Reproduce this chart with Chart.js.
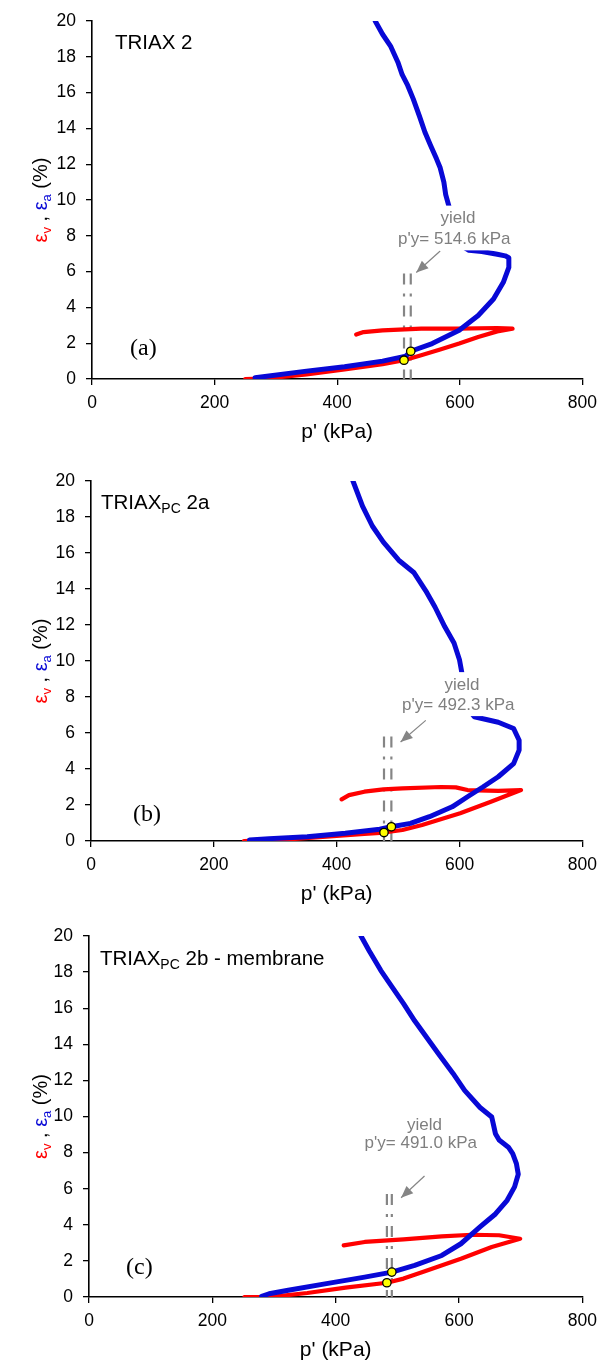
<!DOCTYPE html>
<html>
<head>
<meta charset="utf-8">
<script src="https://cdn.jsdelivr.net/npm/chart.js@4"></script>
<style>
  body { margin:0; background:#fff; width:605px; height:1363px; position:relative; overflow:hidden; }
  canvas { position:absolute; left:0; }
</style>
</head>
<body>
<canvas id="cA" width="605" height="450" style="top:0px"></canvas>
<canvas id="cB" width="605" height="450" style="top:455px"></canvas>
<canvas id="cC" width="605" height="453" style="top:910px"></canvas>
<script>
// ---- data (p' in kPa, strains in %) ----
// (a) TRIAX 2
const aBlueP = [266,350,412,474,512,520,555,599,630,655,671,680,680,674,661,636,615,595,585,582,583,577,574,568,562,552,543,534,524,515,506,499,487,474,462];
const aBlueE = [0.07,0.44,0.68,1.0,1.28,1.55,1.98,2.72,3.55,4.47,5.4,6.23,6.78,6.88,6.97,7.12,7.19,7.6,8.5,9.2,9.56,10.3,11.0,11.8,12.3,13.07,13.8,14.7,15.65,16.4,17.0,17.7,18.6,19.26,20];
const aRedP  = [250,288,350,412,474,509,537,568,599,630,661,686,661,599,537,474,443,431];
const aRedE  = [0,0.04,0.26,0.54,0.83,1.05,1.33,1.65,1.98,2.35,2.66,2.81,2.85,2.81,2.81,2.72,2.62,2.48];
const aYieldP = [509, 520];          // red / blue yield markers
const aYieldE = [1.05, 1.55];
const aArrowP = [568, 529];
const aArrowE = [7.15, 5.95];

// (b) TRIAX_PC 2a
const bBlueP = [258,290,352,414,470,489,520,551,588,613,638,663,688,697,697,688,663,624,610,605,604,600,591,576,560,545,526,501,476,458,442,426.5];
const bBlueE = [0.05,0.13,0.24,0.43,0.65,0.79,0.98,1.35,1.9,2.46,3.0,3.57,4.3,5.05,5.6,6.25,6.6,6.9,7.5,8.5,9.3,10.05,11.0,11.9,13.0,13.9,14.9,15.6,16.6,17.5,18.6,20];
const bRedP  = [249,321,383,445,477,507,539,601,651,700,663,613,594,570,507,476,445,420,408];
const bRedE  = [0,0.09,0.24,0.39,0.47,0.61,0.89,1.54,2.18,2.83,2.79,2.83,2.98,3.0,2.92,2.87,2.74,2.55,2.31];
const bYieldP = [477, 489];
const bYieldE = [0.47, 0.79];
const bArrowP = [545, 504];
const bArrowE = [6.7, 5.5];

// (c) TRIAX_PC 2b - membrane
const cBlueP = [280,292,323,385,447,491,528,572,603,634,659,678,690,696,693,687,680,665,659,653,634,609,590,566,547,528,510,491,473,454,441];
const cBlueE = [0.04,0.18,0.37,0.74,1.1,1.38,1.75,2.3,2.95,3.88,4.6,5.36,6.1,6.8,7.39,7.94,8.3,8.7,9.05,9.97,10.5,11.45,12.4,13.5,14.4,15.3,16.25,17.2,18.1,19.2,20];
const cRedP  = [252,292,354,416,483,510,541,603,653,699,665,621,572,510,447,413];
const cRedE  = [0,0,0.22,0.52,0.79,1.02,1.39,2.12,2.77,3.23,3.42,3.45,3.36,3.19,3.05,2.86];
const cYieldP = [483, 491];
const cYieldE = [0.79, 1.38];
const cArrowP = [544, 506];
const cArrowE = [6.7, 5.5];

const xTicks = [0, 200, 400, 600, 800];
const yTicks = [0, 2, 4, 6, 8, 10, 12, 14, 16, 18, 20];

const SANS = '"Liberation Sans", Arial, sans-serif';
const SERIF = '"Liberation Serif", "Times New Roman", serif';
const BLUE = '#0808d6', RED = '#ff0000', GREY = '#858585';

function pts(xs, ys){ return xs.map((v, i) => ({ x: v, y: ys[i] })); }

// draws a run of coloured text pieces; sub pieces are smaller and lowered
function drawRuns(ctx, runs, x, y){
  runs.forEach(r => {
    ctx.font = (r.size || 20) + 'px ' + SANS;
    ctx.fillStyle = r.color || '#000';
    ctx.fillText(r.t, x, y + (r.dy || 0));
    x += ctx.measureText(r.t).width + (r.gap || 0);
  });
}
function runsWidth(ctx, runs){
  let w = 0;
  runs.forEach(r => { ctx.font = (r.size || 20) + 'px ' + SANS; w += ctx.measureText(r.t).width + (r.gap || 0); });
  return w;
}

const extras = {
  id: 'extras',
  afterDatasetsDraw(chart, args, o){
    const { ctx, chartArea: a, scales: { x, y } } = chart;
    ctx.save();
    ctx.textBaseline = 'alphabetic';

    // yield label with white box behind it
    ctx.font = '17px ' + SANS;
    const x1 = x.getPixelForValue(o.l1[0]), y1 = y.getPixelForValue(o.l1[1]);
    const x2 = x.getPixelForValue(o.l2[0]), y2 = y.getPixelForValue(o.l2[1]);
    const w1 = ctx.measureText('yield').width, w2 = ctx.measureText(o.label).width;
    const bl = Math.min(x1 - w1/2, x2 - w2/2) - 3, br = Math.max(x1 + w1/2, x2 + w2/2) + 3;
    ctx.fillStyle = '#fff';
    ctx.fillRect(bl, y1 - 13, br - bl, y2 - y1 + 24);
    ctx.fillStyle = '#7f7f7f';
    ctx.textAlign = 'center';
    ctx.textBaseline = 'middle';
    ctx.fillText('yield', x1, y1);
    ctx.fillText(o.label, x2, y2);

    // arrow head at the end of the arrow dataset
    const ax = chart.data.datasets.find(d => d.label === 'arrow').data;
    const tx = x.getPixelForValue(ax[0].x), ty = y.getPixelForValue(ax[0].y);
    const hx = x.getPixelForValue(ax[1].x), hy = y.getPixelForValue(ax[1].y);
    const ang = Math.atan2(hy - ty, hx - tx);
    ctx.fillStyle = GREY;
    ctx.beginPath();
    ctx.moveTo(hx, hy);
    ctx.lineTo(hx - 12*Math.cos(ang) + 5*Math.sin(ang), hy - 12*Math.sin(ang) - 5*Math.cos(ang));
    ctx.lineTo(hx - 12*Math.cos(ang) - 5*Math.sin(ang), hy - 12*Math.sin(ang) + 5*Math.cos(ang));
    ctx.closePath();
    ctx.fill();

    // panel title
    ctx.textAlign = 'left';
    ctx.textBaseline = 'alphabetic';
    drawRuns(ctx, o.title, a.left + o.titleDx, a.top + o.titleDy);

    // panel letter
    ctx.font = '24px ' + SERIF;
    ctx.fillStyle = '#000';
    ctx.textBaseline = 'middle';
    ctx.fillText(o.letter, a.left + o.letterDx, a.bottom - o.letterDy);

    // x axis title
    ctx.font = '21px ' + SANS;
    ctx.textAlign = 'center';
    ctx.fillText("p' (kPa)", (a.left + a.right) / 2, a.bottom + 53);

    // y axis title, rotated, multi-coloured
    const yr = [
      { t: 'ε', color: RED, size: 20 },
      { t: 'v', color: RED, size: 13, dy: 4 },
      { t: ' , ', color: '#000', size: 20 },
      { t: 'ε', color: BLUE, size: 20 },
      { t: 'a', color: BLUE, size: 13, dy: 4 },
      { t: ' (%)', color: '#000', size: 20 }
    ];
    ctx.translate(47, (a.top + a.bottom) / 2);
    ctx.rotate(-Math.PI / 2);
    ctx.textAlign = 'left';
    ctx.textBaseline = 'alphabetic';
    drawRuns(ctx, yr, -runsWidth(ctx, yr) / 2, 0);
    ctx.restore();
  }
};

function makePanel(id, cfg){
  const datasets = [
    { label: 'yieldLo', data: pts([cfg.yP[0], cfg.yP[0]], [cfg.top, 0]), showLine: true, pointRadius: 0,
      borderColor: GREY, borderWidth: 2.2, borderDash: [11, 9, 3, 9], order: 5 },
    { label: 'yieldHi', data: pts([cfg.yP[1], cfg.yP[1]], [cfg.top, 0]), showLine: true, pointRadius: 0,
      borderColor: GREY, borderWidth: 2.2, borderDash: [11, 9, 3, 9], order: 5 },
    { label: 'arrow', data: pts(cfg.arP, cfg.arE), showLine: true, pointRadius: 0,
      borderColor: GREY, borderWidth: 1.2, order: 4 },
    { label: 'ev', data: pts(cfg.redP, cfg.redE), showLine: true, pointRadius: 0,
      borderColor: RED, borderWidth: 4.2, borderJoinStyle: 'round', borderCapStyle: 'round', order: 3 },
    { label: 'ea', data: pts(cfg.blueP, cfg.blueE), showLine: true, pointRadius: 0,
      borderColor: BLUE, borderWidth: 5, borderJoinStyle: 'round', borderCapStyle: 'round', order: 2 },
    { label: 'yield', data: pts(cfg.yP, cfg.yE), showLine: false, pointRadius: 4.2,
      pointBackgroundColor: '#ffff00', pointBorderColor: '#000', pointBorderWidth: 1.3, order: 1 }
  ];
  return new Chart(document.getElementById(id), {
    type: 'scatter',
    data: { datasets },
    options: {
      responsive: false, animation: false, devicePixelRatio: 1,
      layout: { padding: cfg.pad },
      plugins: {
        legend: { display: false }, tooltip: { enabled: false },
        extras: cfg.extras
      },
      scales: {
        x: {
          type: 'linear', min: 0, max: 800,
          afterBuildTicks(s){ s.ticks = xTicks.map(v => ({ value: v })); },
          afterFit(s){ s.height = cfg.xH; },
          ticks: { color: '#000', font: { size: 17.5, family: SANS }, padding: 8, maxRotation: 0 },
          grid: { drawOnChartArea: false, tickLength: 6, color: '#000', lineWidth: 1.3 },
          border: { color: '#000', width: 1.6 }
        },
        y: {
          type: 'linear', min: 0, max: 20,
          afterBuildTicks(s){ s.ticks = yTicks.map(v => ({ value: v })); },
          afterFit(s){ s.width = cfg.yW; },
          ticks: { color: '#000', font: { size: 17.5, family: SANS }, padding: 10 },
          grid: { drawOnChartArea: false, tickLength: 6, color: '#000', lineWidth: 1.3 },
          border: { color: '#000', width: 1.6 }
        }
      }
    },
    plugins: [extras]
  });
}

makePanel('cA', {
  blueP: aBlueP, blueE: aBlueE, redP: aRedP, redE: aRedE, yP: aYieldP, yE: aYieldE,
  arP: aArrowP, arE: aArrowE, top: 5.9,
  pad: { top: 21, left: 0, right: 17, bottom: 0 }, yW: 92, xH: 71,
  extras: {
    l1: [597, 8.96], l2: [591, 7.8], label: "p'y= 514.6 kPa",
    title: [{ t: 'TRIAX 2', size: 20.5 }], titleDx: 23, titleDy: 28,
    letter: '(a)', letterDx: 38, letterDy: 30
  }
});

makePanel('cB', {
  blueP: bBlueP, blueE: bBlueE, redP: bRedP, redE: bRedE, yP: bYieldP, yE: bYieldE,
  arP: bArrowP, arE: bArrowE, top: 5.8,
  pad: { top: 26, left: 0, right: 17, bottom: 0 }, yW: 91, xH: 64,
  extras: {
    l1: [604, 8.66], l2: [598, 7.55], label: "p'y= 492.3 kPa",
    title: [{ t: 'TRIAX', size: 20.5 }, { t: 'PC', size: 14, dy: 4 }, { t: ' 2a', size: 20.5 }], titleDx: 10, titleDy: 28,
    letter: '(b)', letterDx: 42, letterDy: 26
  }
});

makePanel('cC', {
  blueP: cBlueP, blueE: cBlueE, redP: cRedP, redE: cRedE, yP: cYieldP, yE: cYieldE,
  arP: cArrowP, arE: cArrowE, top: 5.7,
  pad: { top: 26, left: 0, right: 19, bottom: 0 }, yW: 89, xH: 66,
  extras: {
    l1: [544, 9.5], l2: [538, 8.5], label: "p'y= 491.0 kPa",
    title: [{ t: 'TRIAX', size: 20.5 }, { t: 'PC', size: 14, dy: 4 }, { t: ' 2b - membrane', size: 20.5 }], titleDx: 11, titleDy: 29,
    letter: '(c)', letterDx: 37, letterDy: 29
  }
});
</script>
</body>
</html>
